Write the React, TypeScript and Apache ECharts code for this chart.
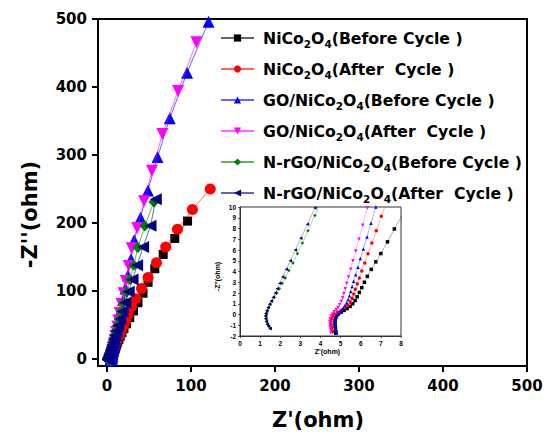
import React, { useEffect, useRef } from "react";
import * as echarts from "echarts";

const NAMES = [
  "NiCo2O4(Before Cycle )",
  "NiCo2O4(After  Cycle )",
  "GO/NiCo2O4(Before Cycle )",
  "GO/NiCo2O4(After  Cycle )",
  "N-rGO/NiCo2O4(Before Cycle )",
  "N-rGO/NiCo2O4(After  Cycle )",
];
const COLORS = ["#000000", "#FF0000", "#0000FF", "#FF00FF", "#008000", "#000080"];
const SYMBOLS = ["rect", "circle", "triangle", "triangle", "diamond", "triangle"];
const ROTATES = [0, 0, 0, 180, 0, 90];

const X_TICKS = [0, 100, 200, 300, 400, 500];
const Y_TICKS = [0, 100, 200, 300, 400, 500];

// NiCo2O4 before cycle
const niBeforeX = [96, 80.8, 67, 57, 49, 43, 37, 31.6, 27.2, 23.3, 20.3, 17.9, 15.8, 14.2, 12.8, 11.7, 10.8, 10.1, 9.4, 8.85, 8.45, 8.05, 7.67, 7.33, 7.0, 6.75, 6.52, 6.33, 6.18, 6.05, 5.93, 5.82, 5.72, 5.6, 5.47, 5.32, 5.17, 5.03, 4.9, 4.8, 4.74, 4.72, 4.72, 4.73, 4.74, 4.75, 4.76];
const niBeforeY = [203, 177.5, 154, 133, 113, 97, 83, 71, 61, 52, 45, 39, 33.5, 29, 25, 21.5, 18.5, 16, 13.8, 11.9, 10.6, 9.2, 7.96, 6.76, 5.67, 4.9, 4.2, 3.55, 3.0, 2.5, 2.05, 1.65, 1.3, 1.0, 0.75, 0.55, 0.38, 0.22, 0.08, -0.1, -0.35, -0.6, -0.85, -1.1, -1.35, -1.6, -1.75];

// NiCo2O4 after cycle
const niAfterX = [123, 101.8, 84, 70, 59, 49, 41.2, 34.4, 29.3, 25.5, 22.3, 19.5, 17, 15, 13.2, 11.7, 10.5, 9.5, 8.7, 8.1, 7.7, 7.35, 7.02, 6.77, 6.55, 6.36, 6.2, 6.05, 5.93, 5.83, 5.73, 5.65, 5.57, 5.48, 5.36, 5.2, 5.02, 4.85, 4.7, 4.6, 4.54, 4.52, 4.53, 4.55, 4.57, 4.6];
const niAfterY = [250, 220, 191, 165, 141.6, 120, 104, 89, 77, 66, 57, 49, 42, 36, 31, 26.5, 23, 19.8, 17, 14.6, 12.6, 10.8, 9.13, 7.8, 6.65, 5.65, 4.8, 4.05, 3.4, 2.85, 2.35, 1.9, 1.5, 1.15, 0.85, 0.6, 0.4, 0.22, 0.05, -0.15, -0.4, -0.65, -0.9, -1.15, -1.4, -1.6];

// GO/NiCo2O4 before cycle
const goBeforeX = [121, 95.4, 74.8, 60.2, 48.8, 40, 32.5, 28.6, 25, 22, 19.3, 17, 15, 13.4, 12.1, 11, 10, 9.2, 8.5, 7.95, 7.47, 7.07, 6.75, 6.51, 6.31, 6.13, 5.98, 5.86, 5.75, 5.65, 5.57, 5.5, 5.44, 5.38, 5.3, 5.22, 5.13, 5.04, 4.95, 4.87, 4.8, 4.75, 4.73, 4.74, 4.76, 4.78, 4.8];
const goBeforeY = [496, 421, 354, 297, 248, 208, 175, 147, 123, 104, 87, 73, 61, 51, 43, 36, 30, 25, 21, 17.5, 14.5, 12, 10.0, 8.5, 7.2, 6.1, 5.2, 4.4, 3.7, 3.1, 2.6, 2.15, 1.75, 1.4, 1.1, 0.85, 0.6, 0.4, 0.2, 0.0, -0.2, -0.45, -0.7, -0.95, -1.2, -1.45, -1.7];

// GO/NiCo2O4 after cycle
const goAfterX = [106.5, 84.7, 66.1, 53.6, 44.2, 36, 29.5, 26, 22.6, 19.8, 17.3, 15.3, 13.6, 12.3, 11, 10.1, 9.2, 8.5, 7.85, 7.4, 6.95, 6.6, 6.33, 6.1, 5.91, 5.75, 5.61, 5.5, 5.39, 5.3, 5.23, 5.16, 5.1, 5.03, 4.95, 4.87, 4.78, 4.68, 4.6, 4.53, 4.48, 4.46, 4.47, 4.48, 4.5, 4.52];
const goAfterY = [465.7, 394, 331, 277, 232, 193, 163, 137, 115, 97, 81, 68, 57, 48, 40, 34, 28.5, 24, 20, 17, 14, 11.8, 9.9, 8.3, 7.0, 5.9, 5.0, 4.2, 3.5, 2.9, 2.4, 1.95, 1.55, 1.2, 0.9, 0.65, 0.45, 0.25, 0.05, -0.15, -0.4, -0.65, -0.9, -1.15, -1.4, -1.7];

// N-rGO/NiCo2O4 before cycle
const nrgoBeforeX = [55.8, 45.1, 36.8, 32.0, 27.4, 23.4, 19.9, 17.1, 14.7, 12.6, 10.85, 9.39, 8.16, 7.13, 6.27, 5.54, 4.93, 4.42, 4.02, 3.72, 3.38, 3.10, 2.85, 2.63, 2.43, 2.25, 2.1, 1.95, 1.83, 1.7, 1.6, 1.5, 1.42, 1.35, 1.3, 1.28, 1.29, 1.32, 1.37, 1.43, 1.5];
const nrgoBeforeY = [231, 195.6, 164, 138, 117, 98.5, 83, 70, 59, 49.5, 41.6, 35, 29.4, 24.7, 20.8, 17.5, 14.7, 12.4, 10.6, 9.22, 7.8, 6.66, 5.67, 4.8, 4.1, 3.4, 2.9, 2.4, 2.0, 1.6, 1.25, 0.95, 0.65, 0.35, 0.1, -0.15, -0.4, -0.65, -0.9, -1.1, -1.3];

// N-rGO/NiCo2O4 after cycle
const nrgoAfterX = [58.2, 51.9, 43.1, 36.0, 30.5, 26.0, 22.0, 18.8, 16.0, 13.6, 11.6, 10.0, 8.6, 7.4, 6.4, 5.6, 4.9, 4.3, 3.72, 3.35, 3.02, 2.75, 2.5, 2.3, 2.12, 1.97, 1.85, 1.75, 1.65, 1.55, 1.47, 1.4, 1.33, 1.29, 1.27, 1.28, 1.31, 1.36, 1.42, 1.5];
const nrgoAfterY = [235, 196, 165, 138, 117, 99, 83, 70, 59, 49.5, 41.6, 35, 29.4, 24.7, 20.8, 17.5, 14.7, 12.1, 9.9, 8.4, 7.1, 6.0, 5.0, 4.2, 3.5, 2.9, 2.4, 2.0, 1.6, 1.25, 0.95, 0.65, 0.35, 0.1, -0.15, -0.4, -0.65, -0.9, -1.1, -1.3];

const SERIES_X = [niBeforeX, niAfterX, goBeforeX, goAfterX, nrgoBeforeX, nrgoAfterX];
const SERIES_Y = [niBeforeY, niAfterY, goBeforeY, goAfterY, nrgoBeforeY, nrgoAfterY];
const MAIN_SIZES = [9, 11, 12, 12, 11, 12];

const FONT = "DejaVu Sans";

function legendRich(name: string): string {
  const idx = name.indexOf("Co2O4");
  const pre = name.slice(0, idx) + "Co";
  const post = name.slice(idx + 5);
  return `{t|${pre}}{s|2}{t|O}{s|4}{t|${post}}`;
}

function buildOption() {
  const pairs = SERIES_X.map((xs, i) => xs.map((x, j) => [x, SERIES_Y[i][j]]));
  const mainSeries = pairs.map((data, i) => ({
    type: "line",
    name: NAMES[i],
    xAxisIndex: 0,
    yAxisIndex: 0,
    data,
    symbol: SYMBOLS[i],
    symbolRotate: ROTATES[i],
    symbolSize: MAIN_SIZES[i],
    itemStyle: { color: COLORS[i] },
    lineStyle: { color: COLORS[i], width: 1, opacity: 0.6 },
    showAllSymbol: true,
    clip: true,
    z: 2 + i,
  }));
  const insetSeries = pairs.map((data, i) => ({
    type: "line",
    name: NAMES[i],
    xAxisIndex: 1,
    yAxisIndex: 1,
    data,
    symbol: SYMBOLS[i],
    symbolRotate: ROTATES[i],
    symbolSize: 3.5,
    itemStyle: { color: COLORS[i] },
    lineStyle: { color: COLORS[i], width: 0.7, opacity: 0.45 },
    showAllSymbol: true,
    clip: true,
    z: 20 + i,
  }));

  const mainLabel = { fontFamily: FONT, fontWeight: "bold", fontSize: 15, color: "#000" };
  const insetLabel = { fontFamily: "Liberation Sans", fontWeight: "bold", fontSize: 6.5, color: "#000" };

  return {
    animation: false,
    backgroundColor: "#ffffff",
    legend: {
      data: NAMES,
      orient: "vertical",
      left: 220,
      top: 30,
      padding: 0,
      itemWidth: 33,
      itemHeight: 9,
      itemGap: 12,
      formatter: (name: string) => legendRich(name),
      textStyle: {
        padding: [0, 0, 0, 4],
        rich: {
          t: { fontFamily: FONT, fontWeight: "bold", fontSize: 15.7, color: "#000", lineHeight: 22 },
          s: { fontFamily: FONT, fontWeight: "bold", fontSize: 10.5, color: "#000", lineHeight: 11, verticalAlign: "bottom" },
        },
      },
    },
    grid: [
      { left: 98, top: 19, right: 23, bottom: 69, show: true, borderColor: "#000", borderWidth: 2, backgroundColor: "transparent", z: 0 },
      { left: 240, top: 207, right: 149, bottom: 99, show: true, borderColor: "#333", borderWidth: 1, backgroundColor: "#fff", z: 10 },
    ],
    xAxis: [
      {
        type: "value",
        gridIndex: 0,
        min: -10.6,
        max: 500,
        axisLine: { onZero: false, lineStyle: { color: "#000", width: 2 } },
        axisTick: { show: true, inside: false, length: 6, lineStyle: { width: 2, color: "#000" }, customValues: X_TICKS },
        axisLabel: { ...mainLabel, margin: 12, customValues: X_TICKS },
        splitLine: { show: false },
        name: "Z'(ohm)",
        nameLocation: "middle",
        nameGap: 43,
        nameTextStyle: { fontFamily: FONT, fontWeight: "bold", fontSize: 21, color: "#000", padding: [0, 0, 0, 11] },
      },
      {
        type: "value",
        gridIndex: 1,
        min: 0,
        max: 8,
        interval: 1,
        axisLine: { onZero: false, lineStyle: { color: "#333", width: 1 } },
        axisTick: { show: true, inside: false, length: 2, lineStyle: { width: 0.8, color: "#333" } },
        axisLabel: { ...insetLabel, margin: 4 },
        splitLine: { show: false },
        name: "Z'(ohm)",
        nameLocation: "middle",
        nameGap: 11,
        nameTextStyle: { fontFamily: "Liberation Sans", fontWeight: "bold", fontSize: 7, color: "#000", padding: [0, 0, 0, 14] },
        z: 11,
      },
    ],
    yAxis: [
      {
        type: "value",
        gridIndex: 0,
        min: -10,
        max: 500,
        axisLine: { onZero: false, lineStyle: { color: "#000", width: 2 } },
        axisTick: { show: true, inside: false, length: 6, lineStyle: { width: 2, color: "#000" }, customValues: Y_TICKS },
        axisLabel: { ...mainLabel, margin: 11, customValues: Y_TICKS },
        splitLine: { show: false },
        name: "-Z''(ohm)",
        nameLocation: "middle",
        nameGap: 58,
        nameRotate: 90,
        nameTextStyle: { fontFamily: FONT, fontWeight: "bold", fontSize: 21, color: "#000", padding: [0, 44, 0, 0] },
      },
      {
        type: "value",
        gridIndex: 1,
        min: -2,
        max: 10,
        interval: 1,
        axisLine: { onZero: false, lineStyle: { color: "#333", width: 1 } },
        axisTick: { show: true, inside: false, length: 2, lineStyle: { width: 0.8, color: "#333" } },
        axisLabel: { ...insetLabel, margin: 4 },
        splitLine: { show: false },
        name: "-Z''(ohm)",
        nameLocation: "middle",
        nameGap: 19,
        nameRotate: 90,
        nameTextStyle: { fontFamily: "Liberation Sans", fontWeight: "bold", fontSize: 7, color: "#000", padding: [0, 10, 0, 0] },
        z: 11,
      },
    ],
    series: [...mainSeries, ...insetSeries],
  };
}

export default function App() {
  const ref = useRef<HTMLDivElement>(null);
  useEffect(() => {
    if (!ref.current) return;
    const chart = echarts.init(ref.current, null, { renderer: "svg" });
    chart.setOption(buildOption() as any);
    return () => chart.dispose();
  }, []);
  return (
    <div
      ref={ref}
      style={{ position: "absolute", left: 0, top: 0, width: 550, height: 435, background: "#fff" }}
    />
  );
}
